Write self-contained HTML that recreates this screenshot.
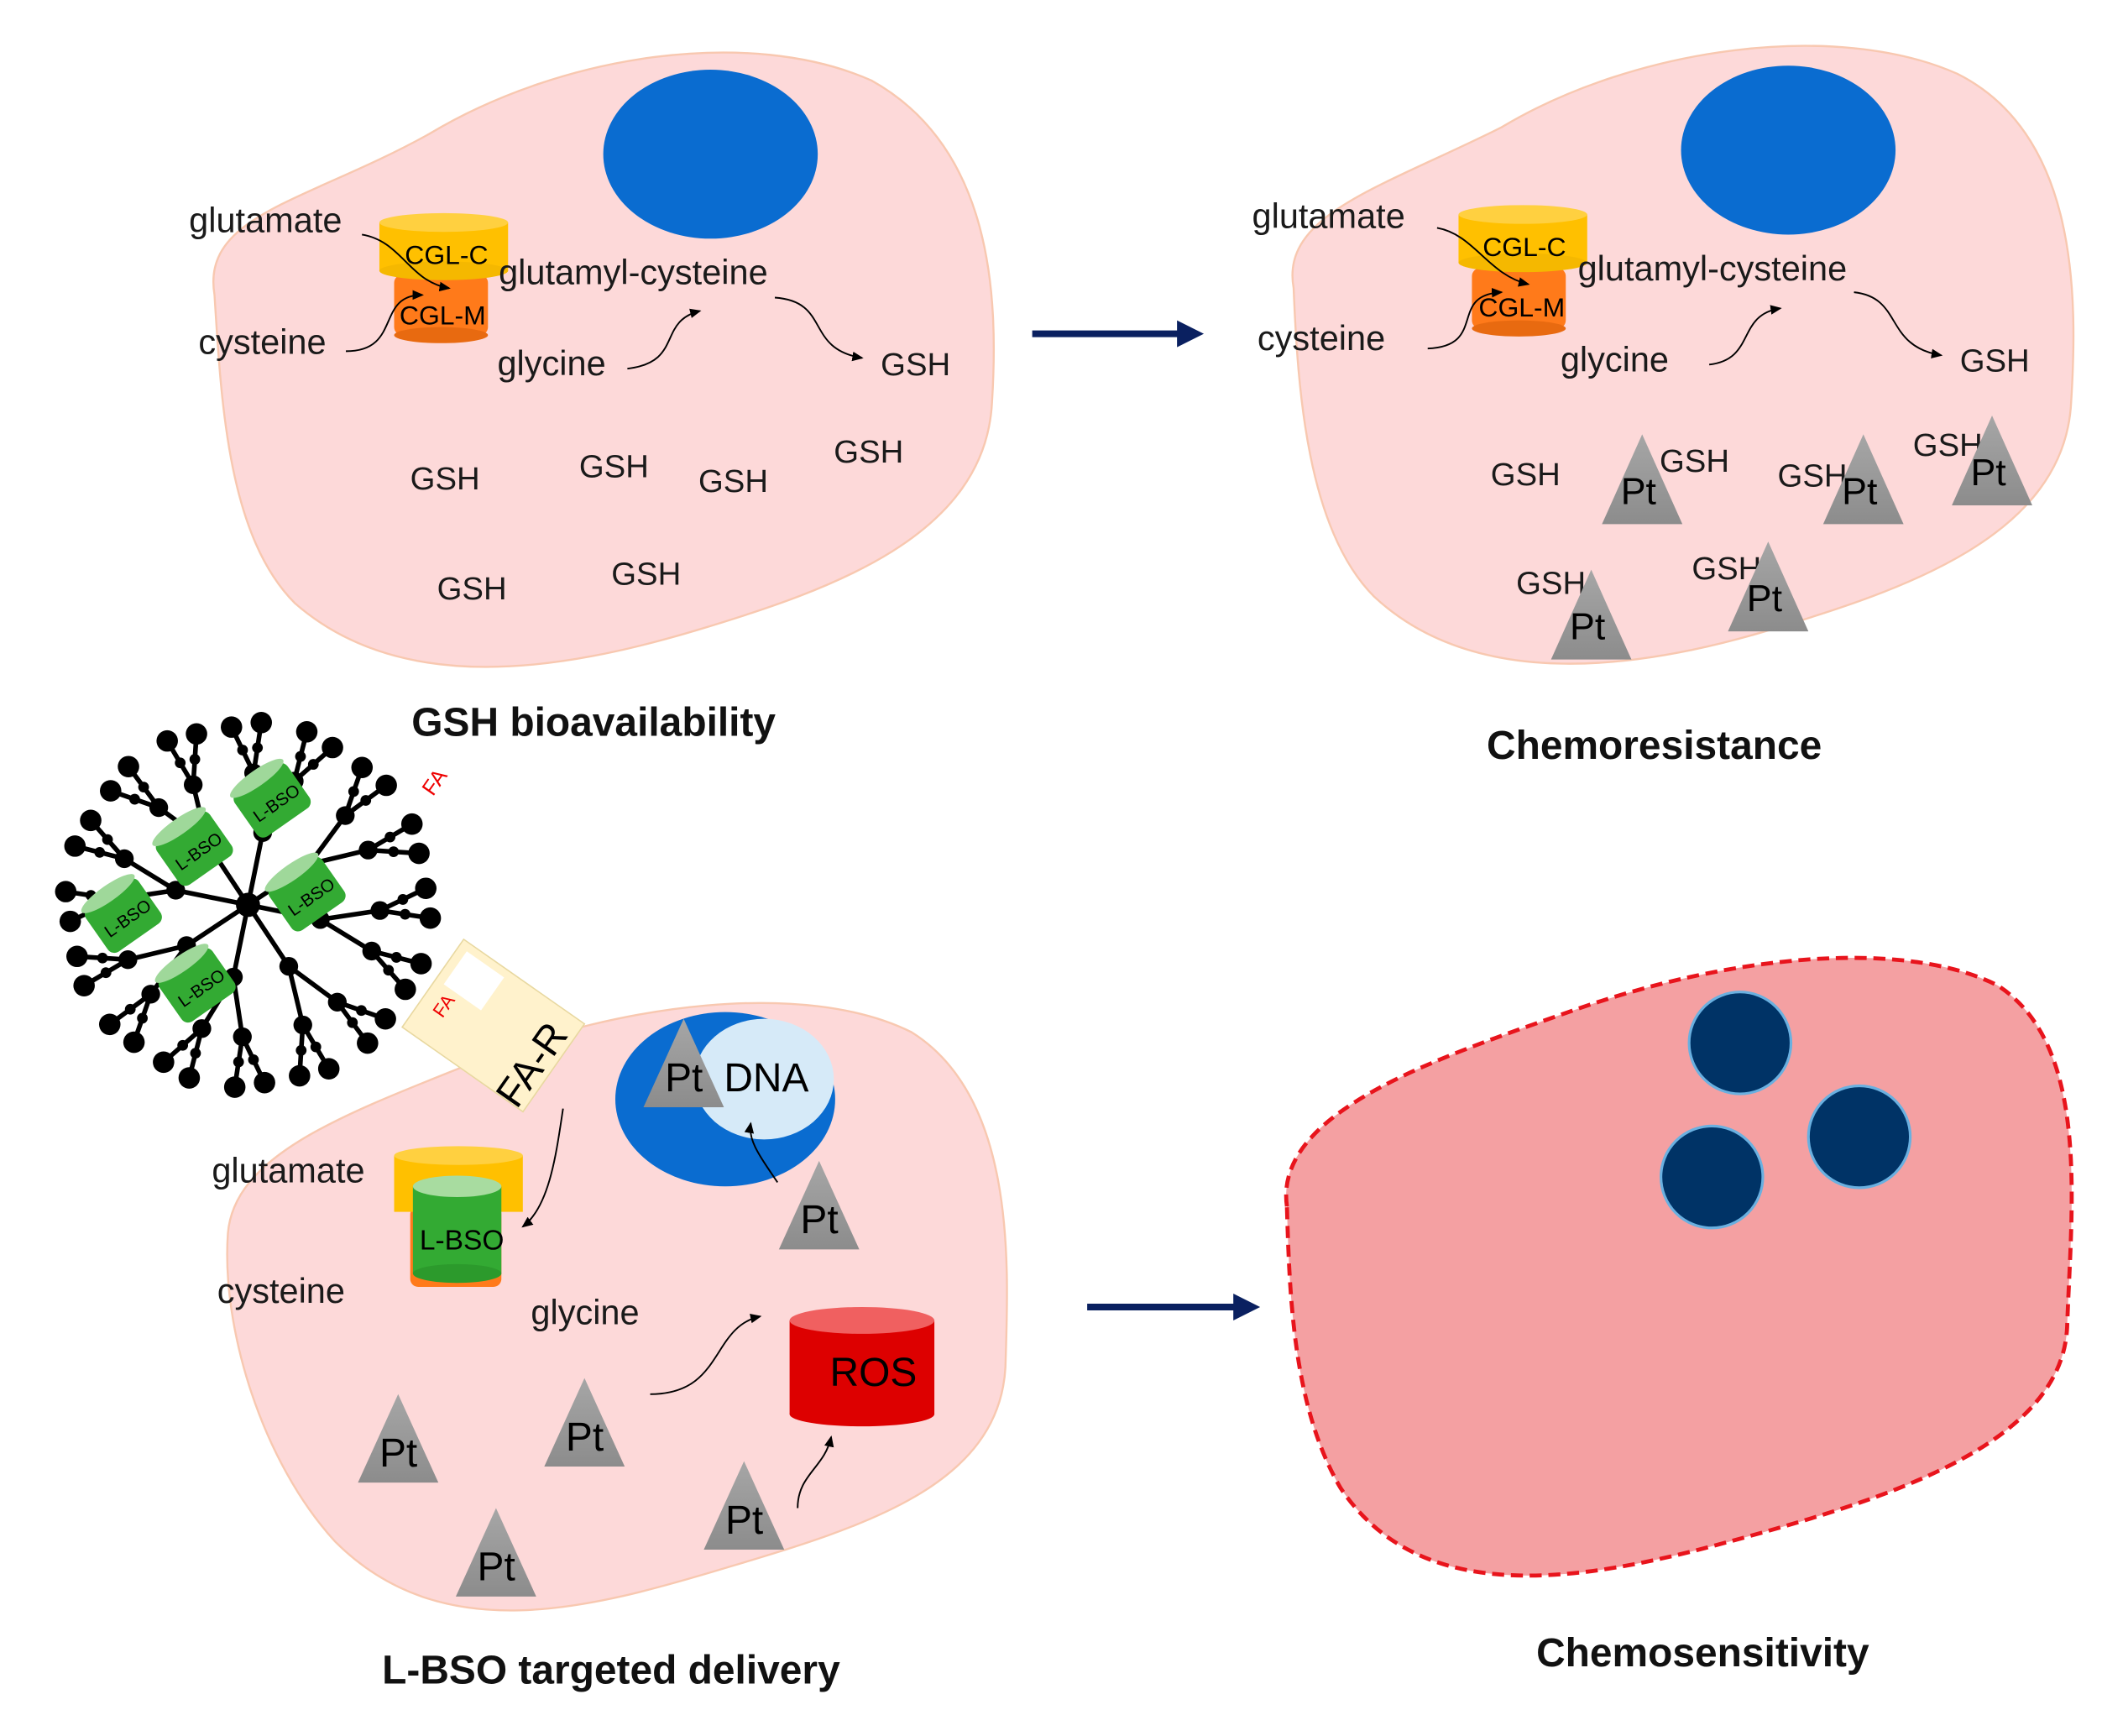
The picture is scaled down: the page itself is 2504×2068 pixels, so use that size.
<!DOCTYPE html>
<html><head><meta charset="utf-8"><style>html,body{margin:0;padding:0;background:#fff}svg{display:block}</style></head><body>
<svg width="2504" height="2068" viewBox="0 0 1568 1295" xmlns="http://www.w3.org/2000/svg" font-family="Liberation Sans, sans-serif">
<defs>
<marker id="ah" markerWidth="8" markerHeight="8" refX="6" refY="4" orient="auto"><path d="M0,1 L7,4 L0,7z" fill="#000"/></marker>
<linearGradient id="tri" x1="0" y1="0" x2="0" y2="1"><stop offset="0" stop-color="#a6a6a6"/><stop offset="1" stop-color="#8c8c8c"/></linearGradient>
</defs>
<!-- Cell 1 -->
<path d="M160,220 C150,160 230,150 320,100 C420,40 560,20 650,60 C740,110 745,220 740,300 C735,400 620,440 520,470 C420,500 300,520 220,450 C170,400 165,300 160,220Z" fill="#fdd9d9" stroke="#f8c8b0" stroke-width="1.5"/>
<ellipse cx="530" cy="115" rx="80" ry="63" fill="#0a6cd0"/>
<!-- Cell 2 -->
<path d="M965,215 C955,160 1030,140 1120,95 C1220,35 1370,15 1460,55 C1550,100 1550,220 1545,300 C1540,400 1420,440 1320,470 C1220,500 1100,515 1025,445 C975,395 968,290 965,215Z" fill="#fdd9d9" stroke="#f8c8b0" stroke-width="1.5"/>
<ellipse cx="1334" cy="112" rx="80" ry="63" fill="#0a6cd0"/>
<!-- Cell 3 -->
<path d="M170,920 C175,860 260,830 360,790 C460,750 600,730 680,770 C760,820 752,950 750,1020 C745,1110 640,1140 540,1170 C440,1200 330,1230 250,1150 C195,1090 165,990 170,920Z" fill="#fdd9d9" stroke="#f8c8b0" stroke-width="1.5"/>
<!-- Cell 4 -->
<path d="M960,900 C950,830 1070,790 1170,755 C1290,712 1420,700 1490,735 C1560,780 1545,900 1542,990 C1538,1080 1400,1120 1290,1150 C1180,1180 1060,1200 1000,1110 C965,1050 962,970 960,900Z" fill="#f4a0a2" stroke="#e8141c" stroke-width="3" stroke-dasharray="9,5"/>
<circle cx="1298" cy="778" r="38" fill="#003366" stroke="#6ab0e0" stroke-width="2"/>
<circle cx="1387" cy="848" r="38" fill="#003366" stroke="#6ab0e0" stroke-width="2"/>
<circle cx="1277" cy="878" r="38" fill="#003366" stroke="#6ab0e0" stroke-width="2"/>

<!-- Enzyme cell 1 -->
<rect x="294" y="205" width="70" height="45" rx="6" fill="#ff7a1a"/>
<ellipse cx="329" cy="250" rx="35" ry="6" fill="#e86a10"/>
<rect x="283" y="166" width="96" height="36" fill="#ffc000"/>
<ellipse cx="331" cy="166" rx="48" ry="7" fill="#ffd040"/>
<ellipse cx="331" cy="202" rx="48" ry="7" fill="#f5b800"/>
<g font-size="20" fill="#000">
<text x="302" y="197">CGL-C</text><text x="298" y="242">CGL-M</text>
</g>
<!-- Enzyme cell 2 -->
<rect x="1098" y="200" width="70" height="45" rx="6" fill="#ff7a1a"/>
<ellipse cx="1133" cy="245" rx="35" ry="6" fill="#e86a10"/>
<rect x="1088" y="160" width="96" height="36" fill="#ffc000"/>
<ellipse cx="1136" cy="160" rx="48" ry="7" fill="#ffd040"/>
<ellipse cx="1136" cy="196" rx="48" ry="7" fill="#f5b800"/>
<g font-size="20" fill="#000">
<text x="1106" y="191">CGL-C</text><text x="1103" y="236">CGL-M</text>
</g>

<g font-size="26" fill="#1a1a1a">
<text x="141" y="173">glutamate</text><text x="148" y="264">cysteine</text>
<text x="372" y="212">glutamyl-cysteine</text><text x="371" y="280">glycine</text>
<text x="657" y="280" font-size="24">GSH</text>
<text x="934" y="170">glutamate</text><text x="938" y="261">cysteine</text>
<text x="1177" y="209">glutamyl-cysteine</text><text x="1164" y="277">glycine</text>
<text x="1462" y="277" font-size="24">GSH</text>
</g>
<g font-size="24" fill="#1a1a1a">
<text x="306" y="365">GSH</text><text x="432" y="356">GSH</text><text x="521" y="367">GSH</text><text x="622" y="345">GSH</text>
<text x="326" y="447">GSH</text><text x="456" y="436">GSH</text>
<text x="1112" y="362">GSH</text><text x="1238" y="352">GSH</text><text x="1326" y="363">GSH</text><text x="1427" y="340">GSH</text>
<text x="1131" y="443">GSH</text><text x="1262" y="432">GSH</text>
</g>

<!-- Nucleus DNA -->
<ellipse cx="541" cy="820" rx="82" ry="65" fill="#0a6cd0"/>
<ellipse cx="570" cy="805" rx="52" ry="45" fill="#d6eaf8"/>

<g fill="none" stroke="#000" stroke-width="1.2" marker-end="url(#ah)">
<path d="M270,175 C300,180 305,210 335,215"/>
<path d="M258,262 C300,262 280,220 315,220"/>
<path d="M468,275 C510,270 490,240 522,232"/>
<path d="M578,222 C620,225 600,260 643,267"/>
<path d="M1072,170 C1100,175 1110,205 1140,212"/>
<path d="M1065,260 C1110,258 1080,220 1120,218"/>
<path d="M1275,272 C1310,268 1295,235 1328,230"/>
<path d="M1383,218 C1420,222 1405,258 1448,265"/>
<path d="M420,827 C415,860 410,900 390,915"/>
<path d="M580,882 C565,860 558,850 560,838"/>
<path d="M485,1040 C540,1040 530,990 567,982"/>
<path d="M595,1125 C595,1100 615,1095 620,1072"/>
</g>

<!-- Pt triangles -->
<g font-size="28" fill="#000">
<g transform="translate(1225,324)"><path d="M0,0 L30,67 L-30,67Z" fill="url(#tri)"/><text x="-16" y="52">Pt</text></g>
<g transform="translate(1390,324)"><path d="M0,0 L30,67 L-30,67Z" fill="url(#tri)"/><text x="-16" y="52">Pt</text></g>
<g transform="translate(1486,310)"><path d="M0,0 L30,67 L-30,67Z" fill="url(#tri)"/><text x="-16" y="52">Pt</text></g>
<g transform="translate(1187,425)"><path d="M0,0 L30,67 L-30,67Z" fill="url(#tri)"/><text x="-16" y="52">Pt</text></g>
<g transform="translate(1319,404)"><path d="M0,0 L30,67 L-30,67Z" fill="url(#tri)"/><text x="-16" y="52">Pt</text></g>
</g>
<g font-size="30" fill="#000">
<g transform="translate(510,760)"><path d="M0,0 L30,66 L-30,66Z" fill="url(#tri)"/><text x="-14" y="54">Pt</text></g>
<text x="540" y="814">DNA</text>
<g transform="translate(611,866)"><path d="M0,0 L30,66 L-30,66Z" fill="url(#tri)"/><text x="-14" y="54">Pt</text></g>
<g transform="translate(297,1040)"><path d="M0,0 L30,66 L-30,66Z" fill="url(#tri)"/><text x="-14" y="54">Pt</text></g>
<g transform="translate(436,1028)"><path d="M0,0 L30,66 L-30,66Z" fill="url(#tri)"/><text x="-14" y="54">Pt</text></g>
<g transform="translate(370,1125)"><path d="M0,0 L30,66 L-30,66Z" fill="url(#tri)"/><text x="-14" y="54">Pt</text></g>
<g transform="translate(555,1090)"><path d="M0,0 L30,66 L-30,66Z" fill="url(#tri)"/><text x="-14" y="54">Pt</text></g>
</g>
<!-- ROS -->
<rect x="589" y="985" width="108" height="70" fill="#dd0000"/>
<ellipse cx="643" cy="1055" rx="54" ry="9" fill="#dd0000"/>
<ellipse cx="643" cy="985" rx="54" ry="10" fill="#f06060"/>
<text x="619" y="1034" font-size="30" fill="#000">ROS</text>

<!-- enzyme with L-BSO -->
<rect x="306" y="900" width="68" height="60" rx="6" fill="#ff7a1a"/>
<rect x="294" y="862" width="96" height="42" fill="#ffc000"/>
<ellipse cx="342" cy="862" rx="48" ry="7" fill="#ffd040"/>
<rect x="308" y="885" width="66" height="65" fill="#33aa33"/>
<ellipse cx="341" cy="950" rx="33" ry="7" fill="#2c9a2c"/>
<ellipse cx="341" cy="885" rx="33" ry="8" fill="#a8dca0"/>
<text x="313" y="932" font-size="21" fill="#000">L-BSO</text>
<g font-size="26" fill="#1a1a1a"><text x="158" y="882">glutamate</text><text x="162" y="972">cysteine</text><text x="396" y="988">glycine</text></g>

<!-- FA-R -->
<g transform="translate(368,765) rotate(35)"><rect x="-55" y="-40" width="110" height="80" fill="#fff2cc" stroke="#e8d8a0"/><rect x="-48" y="-34" width="34" height="30" fill="#fff"/></g>
<text x="0" y="0" font-size="14" fill="#e00" transform="translate(330,760) rotate(-55)">FA</text>
<text x="0" y="0" font-size="30" fill="#000" text-anchor="middle" transform="translate(405,800) rotate(-55)">FA-R</text>
<text x="318" y="595" font-size="16" fill="#e00" transform="rotate(-55 320 590)">FA</text>

<!-- Dendrimer -->
<g id="dend" stroke="#000" stroke-width="3.5" fill="none"></g>
<g id="dots" fill="#000"></g>
<g font-size="13" fill="#000">
<g transform="translate(203,597) rotate(-35)"><rect x="-24" y="-20" width="48" height="40" rx="6" fill="#33aa33"/><ellipse cx="0" cy="-20" rx="24" ry="6" fill="#9fd89a"/><text x="-18" y="8">L-BSO</text></g>
<g transform="translate(145,633) rotate(-35)"><rect x="-24" y="-20" width="48" height="40" rx="6" fill="#33aa33"/><ellipse cx="0" cy="-20" rx="24" ry="6" fill="#9fd89a"/><text x="-18" y="8">L-BSO</text></g>
<g transform="translate(92,683) rotate(-35)"><rect x="-24" y="-20" width="48" height="40" rx="6" fill="#33aa33"/><ellipse cx="0" cy="-20" rx="24" ry="6" fill="#9fd89a"/><text x="-18" y="8">L-BSO</text></g>
<g transform="translate(229,667) rotate(-35)"><rect x="-24" y="-20" width="48" height="40" rx="6" fill="#33aa33"/><ellipse cx="0" cy="-20" rx="24" ry="6" fill="#9fd89a"/><text x="-18" y="8">L-BSO</text></g>
<g transform="translate(147,735) rotate(-35)"><rect x="-24" y="-20" width="48" height="40" rx="6" fill="#33aa33"/><ellipse cx="0" cy="-20" rx="24" ry="6" fill="#9fd89a"/><text x="-18" y="8">L-BSO</text></g>
</g>

<!-- Arrows -->
<path d="M770,249 L880,249" stroke="#0a2060" stroke-width="5"/><path d="M878,239 L898,249 L878,259Z" fill="#0a2060"/>
<path d="M811,975 L922,975" stroke="#0a2060" stroke-width="5"/><path d="M920,965 L940,975 L920,985Z" fill="#0a2060"/>

<g font-size="30" font-weight="bold" fill="#111">
<text x="307" y="549">GSH bioavailability</text>
<text x="1109" y="566">Chemoresistance</text>
<text x="285" y="1256">L-BSO targeted delivery</text>
<text x="1146" y="1243">Chemosensitivity</text>
</g>
</svg>
<script>
(function(){
var ns="http://www.w3.org/2000/svg",L=document.getElementById("dend"),D=document.getElementById("dots");
var cx=185,cy=675;
function line(a,b,c,d){var l=document.createElementNS(ns,"line");l.setAttribute("x1",a);l.setAttribute("y1",b);l.setAttribute("x2",c);l.setAttribute("y2",d);L.appendChild(l);}
function dot(x,y,r){var c=document.createElementNS(ns,"circle");c.setAttribute("cx",x);c.setAttribute("cy",y);c.setAttribute("r",r);D.appendChild(c);}
dot(cx,cy,9);
var n=8;
for(var i=0;i<n;i++){
 var a=i*2*Math.PI/n+0.2;
 var x1=cx+55*Math.cos(a),y1=cy+55*Math.sin(a);
 line(cx,cy,x1,y1);dot(x1,y1,7);
 for(var j=-1;j<=1;j+=2){
  var b=a+j*0.35;
  var x2=x1+45*Math.cos(b),y2=y1+45*Math.sin(b);
  line(x1,y1,x2,y2);dot(x2,y2,7);
  for(var k=-1;k<=1;k+=2){
   var c2=b+k*0.3;
   var x3=x2+38*Math.cos(c2),y3=y2+38*Math.sin(c2);
   line(x2,y2,x3,y3);dot((x2+x3)/2,(y2+y3)/2,4);dot(x3,y3,8);
  }
 }
}
})();
</script>
</body></html>
